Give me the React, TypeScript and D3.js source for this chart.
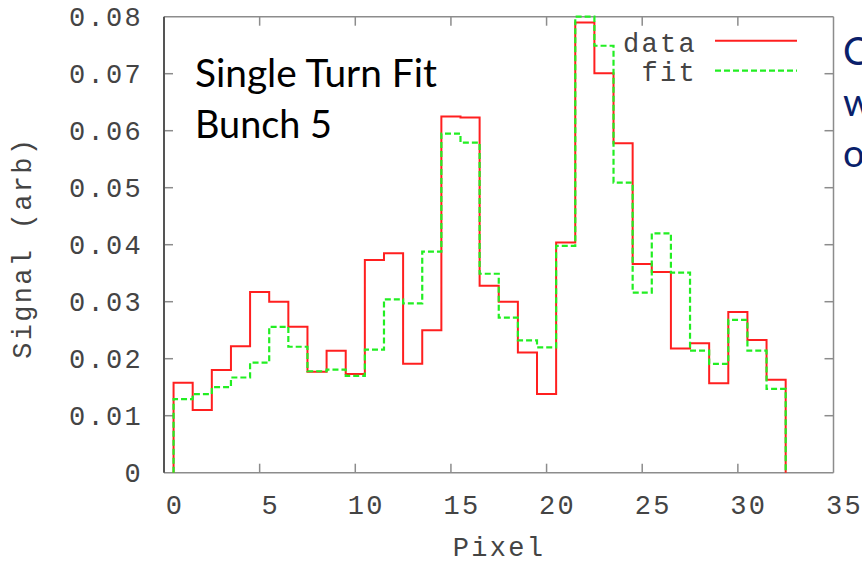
import React from "react";
import * as d3 from "d3";

const pixels = [1,2,3,4,5,6,7,8,9,10,11,12,13,14,15,16,17,18,19,20,21,22,23,24,25,26,27,28,29,30,31,32];
const dataValues = [0.0158,0.0110,0.0180,0.0222,0.0317,0.0300,0.0256,0.0177,0.0214,0.0173,0.0373,0.0385,0.0191,0.0250,0.0625,0.0623,0.0328,0.0300,0.0211,0.0138,0.0404,0.0790,0.0701,0.0578,0.0366,0.0352,0.0218,0.0227,0.0157,0.0282,0.0233,0.0163];
const fitValues = [0.0129,0.0138,0.0150,0.0167,0.0193,0.0256,0.0221,0.0178,0.0181,0.0170,0.0216,0.0304,0.0297,0.0388,0.0595,0.0579,0.0349,0.0272,0.0232,0.0220,0.0398,0.0800,0.0749,0.0509,0.0316,0.0420,0.0351,0.0214,0.0191,0.0268,0.0214,0.0147];
const xTicks = [0,5,10,15,20,25,30,35];
const yTicks = [0,0.01,0.02,0.03,0.04,0.05,0.06,0.07,0.08];
const yTickLabels = ["0","0.01","0.02","0.03","0.04","0.05","0.06","0.07","0.08"];
const seriesNames = ["data","fit"];
const titleLines = ["Single Turn Fit","Bunch 5"];
const sideLines = ["C","w","o"];

const W = 862, H = 564;
const L = 164, R = 833.5, T = 16.7, B = 472.7;

export default function App() {
  const x = d3.scaleLinear().domain([0, 35]).range([L, R]);
  const y = d3.scaleLinear().domain([0, 0.08]).range([B, T]);

  const stepPts = (vals: number[]) => {
    const pts: [number, number][] = [[pixels[0] - 0.5, 0]];
    pixels.forEach((p, i) => {
      pts.push([p - 0.5, vals[i]]);
      pts.push([p + 0.5, vals[i]]);
    });
    pts.push([pixels[pixels.length - 1] + 0.5, 0]);
    return pts;
  };
  const line = d3.line<[number, number]>().x(d => x(d[0])).y(d => y(d[1]));

  const mono = "'Liberation Mono', 'DejaVu Sans Mono', monospace";
  const sans = "Lato, 'Open Sans', sans-serif";
  const tickLen = 9;
  const frameColor = "#8c8c8c";
  const textColor = "#444";
  const fs = 27;
  const ls = 2.3;
  const red = "#ff1f1f";
  const green = "#22ee22";

  return (
    <svg width={W} height={H} style={{ position: "absolute", left: 0, top: 0, background: "#fff" }}>
      <rect x={0} y={0} width={W} height={H} fill="#fff" />
      {xTicks.slice(1, -1).map(t => (
        <g key={"xt" + t}>
          <line x1={x(t)} x2={x(t)} y1={B} y2={B - tickLen} stroke={frameColor} strokeWidth={1.5} />
          <line x1={x(t)} x2={x(t)} y1={T} y2={T + tickLen} stroke={frameColor} strokeWidth={1.5} />
        </g>
      ))}
      {yTicks.slice(1, -1).map(t => (
        <g key={"yt" + t}>
          <line x1={L} x2={L + tickLen} y1={y(t)} y2={y(t)} stroke={frameColor} strokeWidth={1.5} />
          <line x1={R} x2={R - tickLen} y1={y(t)} y2={y(t)} stroke={frameColor} strokeWidth={1.5} />
        </g>
      ))}
      <line x1={L} x2={R} y1={T} y2={T} stroke={frameColor} strokeWidth={1.5} />
      <line x1={L} x2={R} y1={B} y2={B} stroke={frameColor} strokeWidth={1.5} />
      <line x1={R} x2={R} y1={T} y2={B} stroke={frameColor} strokeWidth={1.5} />
      <line x1={L} x2={L} y1={T} y2={B} stroke="#555" strokeWidth={2} />

      <path d={line(stepPts(dataValues)) || ""} fill="none" stroke={red} strokeWidth={2} />
      <path d={line(stepPts(fitValues)) || ""} fill="none" stroke={green} strokeWidth={2.2} strokeDasharray="6,3" />

      {yTicks.map((t, i) => (
        <text key={"yl" + t} x={143} y={y(t) + 9} textAnchor="end" fontFamily={mono} fontSize={fs} letterSpacing={ls} fill={textColor}>
          {yTickLabels[i]}
        </text>
      ))}
      {xTicks.map(t => (
        <text key={"xl" + t} x={x(t) + 11} y={514} textAnchor="middle" fontFamily={mono} fontSize={fs} letterSpacing={ls} fill={textColor}>
          {String(t)}
        </text>
      ))}
      <text x={499} y={556} textAnchor="middle" fontFamily={mono} fontSize={fs} letterSpacing={ls} fill={textColor}>Pixel</text>
      <text transform={`translate(31,${(T + B) / 2 + 3}) rotate(-90)`} textAnchor="middle" fontFamily={mono} fontSize={fs} letterSpacing={ls} fill={textColor}>Signal (arb)</text>

      <text x={697} y={51.5} textAnchor="end" fontFamily={mono} fontSize={fs} letterSpacing={ls} fill={textColor}>{seriesNames[0]}</text>
      <line x1={715} x2={797} y1={40.7} y2={40.7} stroke={red} strokeWidth={2} />
      <text x={697} y={81} textAnchor="end" fontFamily={mono} fontSize={fs} letterSpacing={ls} fill={textColor}>{seriesNames[1]}</text>
      <line x1={715} x2={797} y1={70.7} y2={70.7} stroke={green} strokeWidth={2.2} strokeDasharray="6,3" />

      <text x={195} y={87.3} fontFamily={sans} fontSize={38} fill="#000" textLength={242} lengthAdjust="spacingAndGlyphs">{titleLines[0]}</text>
      <text x={195} y={138.3} fontFamily={sans} fontSize={38} fill="#000" textLength={137} lengthAdjust="spacingAndGlyphs">{titleLines[1]}</text>
      {sideLines.map((s, i) => (
        <text key={"sl" + i} x={843} y={65 + i * 51} fontFamily={sans} fontSize={38} fill="#0a1f6b">{s}</text>
      ))}
    </svg>
  );
}
